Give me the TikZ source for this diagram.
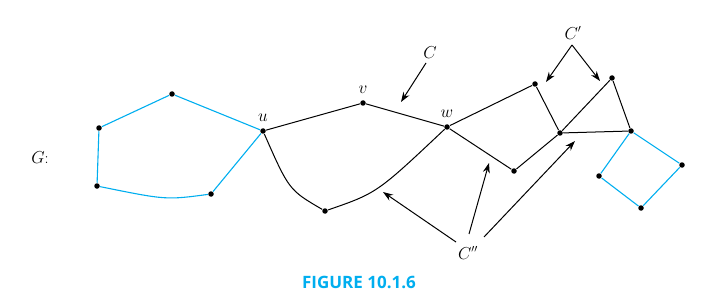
\documentclass[tikz,border=0pt]{standalone}
\usepackage{fontspec}
\newfontfamily\capfont{Open Sans}
\usetikzlibrary{arrows.meta}
\definecolor{procblue}{RGB}{0,174,239}
\tikzset{
	vtx/.style={circle,fill=black,inner sep=0pt,minimum size=5.5pt},
	lbl/.style={font=\fontsize{16}{19}\selectfont,inner sep=0pt},
	blueline/.style={draw=procblue,line width=1.1pt},
	ptr/.style={-{Stealth[length=10pt,width=7pt]},line width=1pt}
}
\begin{document}
\begin{tikzpicture}[x=1pt,y=-1pt,line width=1pt]
	\useasboundingbox (0,0) rectangle (705,305);
	\node[lbl] (G) at (40,158) {$G$:};
	\node[vtx] (a1) at (172,94) {};
	\node[vtx] (a2) at (99,128) {};
	\node[vtx] (a3) at (97,186) {};
	\node[vtx] (a4) at (211,194) {};
	\node[vtx] (u) at (263,131) {};
	\node[vtx] (v) at (363,103) {};
	\node[vtx] (w) at (447,127) {};
	\node[vtx] (x) at (325,211) {};
	\node[vtx] (y) at (514,171) {};
	\node[vtx] (p) at (535,84) {};
	\node[vtx] (q) at (560,133) {};
	\node[vtx] (r) at (612,78) {};
	\node[vtx] (s) at (631,131) {};
	\node[vtx] (b1) at (682,165) {};
	\node[vtx] (b2) at (641,208) {};
	\node[vtx] (b3) at (599,176) {};
	\node[lbl] (lu) at (263,118) {$u$};
	\node[lbl] (lv) at (363,90) {$v$};
	\node[lbl] (lw) at (447,114) {$w$};
	\node[lbl] (C) at (430,53) {$C$};
	\node[lbl] (C1) at (573,33) {$C'$};
	\node[lbl] (C2) at (468,253) {$C''$};
	\node[font=\capfont\bfseries\fontsize{17}{20}\selectfont,text=procblue,inner sep=0pt] (fig) at (359,282) {FIGURE 10.1.6};
	\draw[blueline] (u) -- (a1) -- (a2) -- (a3) .. controls (166,200) .. (a4) -- (u);
	\draw[blueline] (s) -- (b1) -- (b2) -- (b3) -- (s);
	\draw (u) -- (v) -- (w);
	\draw (u) .. controls (289,190) .. (x) .. controls (377,193) .. (w);
	\draw (w) -- (p) -- (q) -- (r) -- (s) -- (q);
	\draw (w) -- (y) -- (q);
	\coordinate (c0) at (426,63);
	\coordinate (c0t) at (401,102);
	\coordinate (c1) at (572,45);
	\coordinate (c1a) at (546,82);
	\coordinate (c1b) at (600,81);
	\coordinate (c2a) at (456,242);
	\coordinate (c2b) at (469,234);
	\coordinate (c2c) at (484,237);
	\coordinate (t2a) at (383,192);
	\coordinate (t2b) at (489,163);
	\coordinate (t2c) at (575,141);
	\draw[ptr] (c0) -- (c0t);
	\draw[ptr] (c1) -- (c1a);
	\draw[ptr] (c1) -- (c1b);
	\draw[ptr] (c2a) -- (t2a);
	\draw[ptr] (c2b) -- (t2b);
	\draw[ptr] (c2c) -- (t2c);
\end{tikzpicture}
\end{document}
